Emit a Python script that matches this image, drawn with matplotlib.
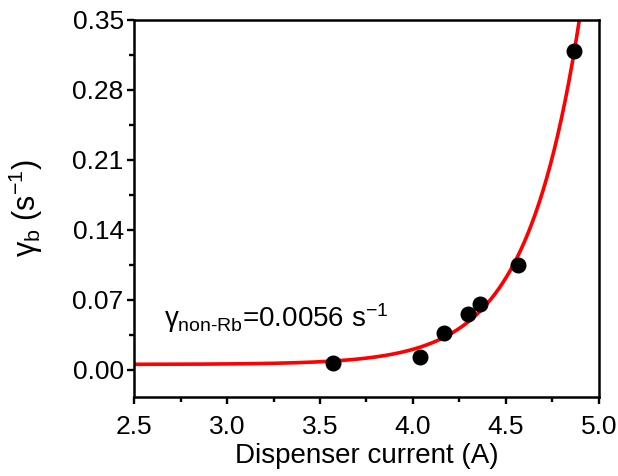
import numpy as np
import matplotlib.pyplot as plt
from matplotlib.ticker import MultipleLocator, FormatStrFormatter

plt.rcParams['font.family'] = ['Liberation Sans', 'DejaVu Sans']
plt.rcParams['mathtext.fontset'] = 'custom'
plt.rcParams['mathtext.rm'] = 'Liberation Sans'
plt.rcParams['mathtext.it'] = 'Liberation Sans'

# measured points
current = [3.568, 4.036, 4.165, 4.297, 4.362, 4.566, 4.867]
gamma_b = [0.0065, 0.013, 0.037, 0.056, 0.066, 0.105, 0.319]
gamma_non_rb = 0.0056

# exponential fit y = y0 + A*exp((x-5)/t), y0 fixed
x = np.array(current)
y = np.array(gamma_b) - gamma_non_rb
best = None
for t in np.linspace(0.1, 0.6, 2001):
    e = np.exp((x - 5) / t)
    A = np.sum(y * e) / np.sum(e * e)
    r = np.sum((y - A * e) ** 2)
    if best is None or r < best[0]:
        best = (r, A, t)
_, A, t = best
xf = np.linspace(2.5, 5.0, 500)
yf = gamma_non_rb + A * np.exp((xf - 5) / t)

fig = plt.figure(figsize=(6.18, 4.76), dpi=100)
ax = fig.add_axes([0.217, 0.166, 0.752, 0.792])
ax.plot(xf, yf, color='#ff0000', lw=2.6, zorder=2)
ax.plot(current, gamma_b, 'o', color='black', ms=10.5, zorder=3)

ax.set_xlim(2.5, 5.0)
ax.set_ylim(-0.027, 0.35)
ax.xaxis.set_major_locator(MultipleLocator(0.5))
ax.xaxis.set_minor_locator(MultipleLocator(0.25))
ax.yaxis.set_major_locator(MultipleLocator(0.07))
ax.yaxis.set_minor_locator(MultipleLocator(0.035))
ax.xaxis.set_major_formatter(FormatStrFormatter('%.1f'))
ax.yaxis.set_major_formatter(FormatStrFormatter('%.2f'))
ax.tick_params(which='both', direction='out', width=1.7, labelsize=19,
               top=False, right=False)
ax.tick_params(which='major', length=5)
ax.tick_params(which='minor', length=3.5)
ax.tick_params(axis='x', which='major', pad=8)
ax.tick_params(axis='y', which='major', pad=2.5)
for s in ax.spines.values():
    s.set_linewidth(1.8)

ax.set_xlabel('Dispenser current (A)', fontsize=20, labelpad=3)
ax.set_ylabel(r'$\gamma_{\rm b}$ (s$^{-1}$)', fontsize=22, labelpad=20)
ax.text(2.661, 0.043, r'$\gamma_{\rm non\text{-}Rb}$=0.0056 s$^{-1}$', fontsize=20)

fig.savefig('out.png', dpi=100)
